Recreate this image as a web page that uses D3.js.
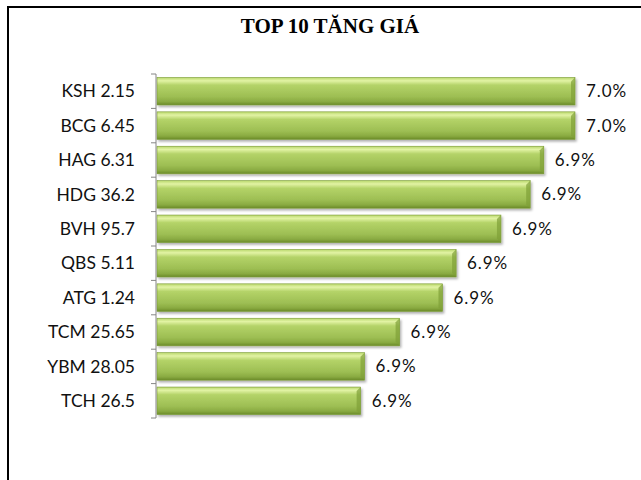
<!DOCTYPE html>
<html>
<head>
<meta charset="utf-8">
<script src="https://cdn.jsdelivr.net/npm/d3@7"></script>
<style>
  body { margin: 0; background: #fff; }
</style>
</head>
<body>
<div id="chart"></div>
<script>
// Chart data
const tickers = ["KSH 2.15", "BCG 6.45", "HAG 6.31", "HDG 36.2", "BVH 95.7",
                 "QBS 5.11", "ATG 1.24", "TCM 25.65", "YBM 28.05", "TCH 26.5"];
const gains = [6.965, 6.965, 6.949, 6.942, 6.927, 6.904, 6.897, 6.875, 6.857, 6.855];
const axisMin = 6.75;
const chartTitle = "TOP 10 TĂNG GIÁ";

const width = 641, height = 480;
const margin = { top: 74, right: 66, bottom: 62, left: 156 };

const svg = d3.select("#chart")
    .append("svg")
    .attr("width", width)
    .attr("height", height);

// Gradient for the bevelled bars
const defs = svg.append("defs");
const grad = defs.append("linearGradient")
    .attr("id", "barGrad")
    .attr("x1", 0).attr("y1", 0).attr("x2", 0).attr("y2", 1);
grad.append("stop").attr("offset", "0%").attr("stop-color", "#b9d86c");
grad.append("stop").attr("offset", "12%").attr("stop-color", "#e2f3a4");
grad.append("stop").attr("offset", "28%").attr("stop-color", "#b4d368");
grad.append("stop").attr("offset", "70%").attr("stop-color", "#9dbe53");
grad.append("stop").attr("offset", "88%").attr("stop-color", "#89aa41");
grad.append("stop").attr("offset", "100%").attr("stop-color", "#6a8a28");

const shadow = defs.append("filter").attr("id", "shadow")
    .attr("x", "-5%").attr("y", "-20%").attr("width", "115%").attr("height", "160%");
shadow.append("feDropShadow")
    .attr("dx", 1.5).attr("dy", 2).attr("stdDeviation", 1.2)
    .attr("flood-color", "#000").attr("flood-opacity", 0.3);

// Outer frame
svg.append("rect")
    .attr("x", 8).attr("y", 7)
    .attr("width", 700).attr("height", 600)
    .attr("fill", "none")
    .attr("stroke", "#000")
    .attr("stroke-width", 2);

// Title
svg.append("text")
    .attr("x", 330)
    .attr("y", 33)
    .attr("text-anchor", "middle")
    .style("font-family", "'Liberation Serif', 'Times New Roman', serif")
    .style("font-weight", "bold")
    .style("font-size", "21px")
    .text(chartTitle);

// Scales
const x = d3.scaleLinear()
    .domain([axisMin, d3.max(gains)])
    .range([margin.left, width - margin.right]);

const y = d3.scaleBand()
    .domain(tickers)
    .range([margin.top, height - margin.bottom])
    .paddingInner(0.2)
    .paddingOuter(0.1);

// Bars
const bars = svg.append("g");
bars.selectAll("rect")
    .data(tickers)
    .enter().append("rect")
    .attr("x", x(axisMin) + 1)
    .attr("y", d => y(d))
    .attr("width", (d, i) => x(gains[i]) - x(axisMin) - 1)
    .attr("height", y.bandwidth())
    .attr("fill", "url(#barGrad)")
    .attr("stroke", "#7a9a35")
    .attr("stroke-width", 0.6)
    .attr("filter", "url(#shadow)");

// Right bevel edge of each bar
bars.selectAll("path.bevel")
    .data(tickers)
    .enter().append("path")
    .attr("class", "bevel")
    .attr("d", (d, i) => {
        const xe = x(gains[i]), y0 = y(d), h = y.bandwidth();
        return `M${xe},${y0} L${xe - 4},${y0 + 4} L${xe - 4},${y0 + h - 4} L${xe},${y0 + h} Z`;
    })
    .attr("fill", "#7f9f38")
    .attr("opacity", 0.7);

// Value labels
svg.append("g").selectAll("text")
    .data(tickers)
    .enter().append("text")
    .attr("x", (d, i) => x(gains[i]) + 11)
    .attr("y", d => y(d) + y.bandwidth() / 2)
    .attr("dy", "0.35em")
    .style("font-family", "Lato, 'Open Sans', sans-serif")
    .style("font-size", "17px")
    .style("letter-spacing", "0.9px")
    .style("fill", "#111")
    .text((d, i) => d3.format(".1f")(gains[i]) + "%");

// Category axis with ticks at band edges
const axisG = svg.append("g");
axisG.append("line")
    .attr("x1", margin.left).attr("x2", margin.left)
    .attr("y1", margin.top).attr("y2", height - margin.bottom)
    .attr("stroke", "#868686");
const edges = d3.range(tickers.length + 1).map(i => margin.top + i * (height - margin.top - margin.bottom) / tickers.length);
axisG.selectAll("line.tick")
    .data(edges)
    .enter().append("line")
    .attr("class", "tick")
    .attr("x1", margin.left - 5).attr("x2", margin.left)
    .attr("y1", d => d).attr("y2", d => d)
    .attr("stroke", "#868686");

axisG.selectAll("text")
    .data(tickers)
    .enter().append("text")
    .attr("x", margin.left - 21)
    .attr("y", d => y(d) + y.bandwidth() / 2)
    .attr("dy", "0.35em")
    .attr("text-anchor", "end")
    .style("font-family", "Lato, 'Open Sans', sans-serif")
    .style("font-size", "17.5px")
    .style("fill", "#111")
    .text(d => d);
</script>
</body>
</html>
